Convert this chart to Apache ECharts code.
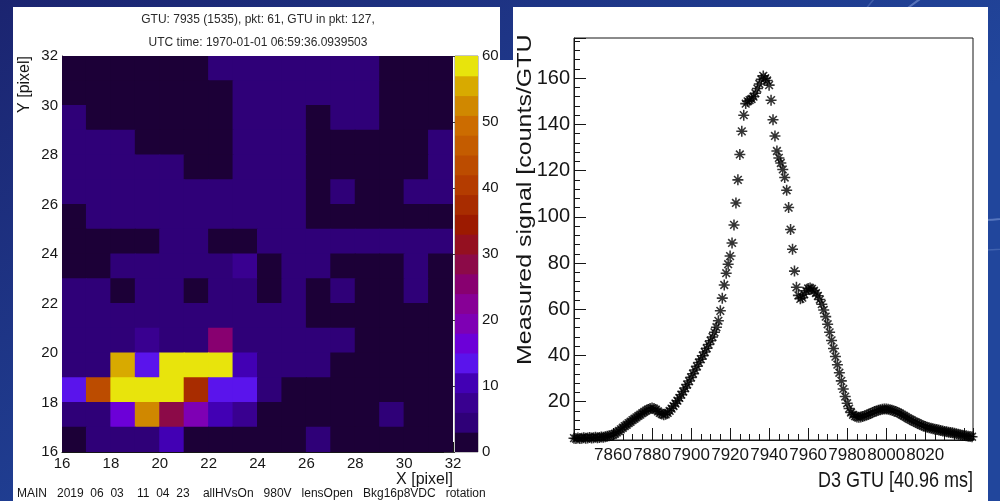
<!DOCTYPE html>
<html>
<head>
<meta charset="utf-8">
<title>GTU 7935 pixel map and light curve</title>
<script src="https://cdn.jsdelivr.net/npm/echarts@6/dist/echarts.min.js"></script>
<style>
  html, body { margin: 0; padding: 0; }
  #chart { width: 1000px; height: 501px; }
</style>
</head>
<body>
<div id="chart"></div>
<script>
// pixel bins (lower edges)
const pixelBinsX = [16, 17, 18, 19, 20, 21, 22, 23, 24, 25, 26, 27, 28, 29, 30, 31]
const pixelBinsY = [16, 17, 18, 19, 20, 21, 22, 23, 24, 25, 26, 27, 28, 29, 30, 31]

// counts per pixel, rows from Y=31 (top) down to Y=16, columns X=16..31
const pixelCounts = [
  [2, 2, 2, 2, 2, 2, 4, 4, 4, 4, 4, 4, 4, 2, 2, 2],
  [2, 2, 2, 2, 2, 2, 2, 4, 4, 4, 4, 4, 4, 2, 2, 2],
  [4, 2, 2, 2, 2, 2, 2, 4, 4, 4, 2, 4, 4, 2, 2, 2],
  [4, 4, 4, 2, 2, 2, 2, 4, 4, 4, 2, 2, 2, 2, 2, 4],
  [4, 4, 4, 4, 4, 2, 2, 4, 4, 4, 2, 2, 2, 2, 2, 4],
  [4, 4, 4, 4, 4, 4, 4, 4, 4, 4, 2, 4, 2, 2, 4, 4],
  [2, 4, 4, 4, 4, 4, 4, 4, 4, 4, 2, 2, 2, 2, 2, 2],
  [2, 2, 2, 2, 4, 4, 2, 2, 4, 4, 4, 4, 4, 4, 4, 4],
  [2, 2, 4, 4, 4, 4, 4, 8, 2, 4, 4, 2, 2, 2, 4, 2],
  [4, 4, 2, 4, 4, 2, 4, 4, 2, 4, 2, 4, 2, 2, 4, 2],
  [4, 4, 4, 4, 4, 4, 4, 4, 4, 4, 2, 2, 2, 2, 2, 2],
  [4, 4, 4, 7, 4, 4, 25, 4, 4, 4, 4, 4, 2, 2, 2, 2],
  [4, 4, 55, 13, 59, 59, 59, 11, 4, 4, 4, 2, 2, 2, 2, 2],
  [13, 42, 59, 59, 59, 38, 13, 13, 4, 2, 2, 2, 2, 2, 2, 2],
  [4, 4, 16, 52, 28, 19, 9, 6, 2, 2, 2, 2, 2, 4, 2, 2],
  [2, 4, 4, 4, 10, 2, 2, 2, 2, 2, 4, 2, 2, 2, 2, 2],
]

// colour levels of the z palette (lower edges, step 3)
const zLevels = [0, 3, 6, 9, 12, 15, 18, 21, 24, 27, 30, 33, 36, 39, 42, 45, 48, 51, 54, 57]
const zColors = [
  '#1c0037', '#2f0078', '#390090', '#4200b4', '#5a14ec', '#6c00d8', '#7e00b4', '#870096', '#880070', '#8c0a48',
  '#941020', '#9c1a00', '#a82c00', '#b43c00', '#bc4c00', '#c45c00', '#cc6c00', '#d08800', '#d8aa00', '#e8e40c',
]

// light curve: one value per GTU starting at gtuStart
const gtuStart = 7840
const signal = [
  4.2, 4.0, 4.3, 4.1, 4.2, 4.4, 4.2, 4.3, 4.5, 4.3,
  4.4, 4.6, 4.4, 4.5, 4.7, 4.6, 4.8, 5.0, 5.2, 5.4,
  5.6, 6.1, 6.7, 7.3, 8.0, 8.7, 9.4, 10.0, 10.7, 11.3,
  12.0, 12.6, 13.2, 13.8, 14.4, 15.0, 15.6, 16.1, 16.6, 17.0,
  17.2, 17.0, 16.5, 15.8, 15.1, 14.6, 14.3, 14.5, 15.1, 16.0,
  17.0, 18.1, 19.2, 20.4, 21.6, 23.0, 24.4, 25.9, 27.4, 28.9,
  30.5, 32.1, 33.7, 35.3, 36.9, 38.4, 39.9, 41.5, 43.1, 44.7,
  46.4, 48.0, 50.0, 52.2, 55.0, 59.3, 64.8, 70.5, 75.6, 79.5,
  83.0, 88.7, 96.5, 106.0, 116.0, 127.0, 137.0, 144.0, 149.0, 150.0,
  150.5, 151.0, 152.0, 153.5, 155.5, 157.5, 159.5, 161.0, 160.0, 159.0,
  157.0, 150.5, 142.0, 135.0, 128.5, 125.5, 123.3, 120.5, 117.0, 111.5,
  104.0, 94.5, 86.0, 76.5, 69.5, 66.0, 64.5, 65.0, 66.5, 68.0,
  69.0, 69.2, 68.8, 68.0, 67.0, 65.8, 64.2, 62.2, 59.7, 56.8,
  53.5, 50.0, 46.5, 43.0, 39.5, 36.0, 32.5, 29.0, 25.5, 22.2,
  19.3, 17.0, 15.3, 14.3, 13.7, 13.4, 13.3, 13.4, 13.6, 13.9,
  14.2, 14.5, 14.9, 15.3, 15.7, 16.0, 16.3, 16.5, 16.7, 16.8,
  16.8, 16.7, 16.5, 16.3, 16.0, 15.7, 15.3, 14.9, 14.4, 13.9,
  13.4, 12.9, 12.4, 12.0, 11.5, 11.1, 10.7, 10.3, 9.9, 9.5,
  9.2, 8.9, 8.7, 8.5, 8.3, 8.1, 7.9, 7.7, 7.5, 7.3,
  7.1, 7.0, 6.8, 6.6, 6.5, 6.3, 6.1, 5.9, 5.7, 5.5,
  5.3, 5.2, 5.0, 4.9, 4.8,
]

const font = '"Liberation Sans", Arial, sans-serif'
const ink = '#161616'
// ROOT style asterisk marker
const star = 'path://M0,8.6L20,8.6L20,11.4L0,11.4Z M8.6,0L11.4,0L11.4,20L8.6,20Z M4,2L18,16L16,18L2,4Z M18,4L4,18L2,16L16,2Z'

const heatCells = []
pixelCounts.forEach((row, r) => {
  row.forEach((v, c) => heatCells.push([pixelBinsX[c], pixelBinsY[pixelBinsY.length - 1 - r], v]))
})
const barCells = zLevels.map((z) => [0, z, z + 1.5])
const curve = signal.map((v, i) => [gtuStart + i, v])

// a cell of size w x h (in data units) from its lower-left corner, slightly padded so no seams show
function cellRenderer(w, h) {
  return function (params, api) {
    const x = api.value(0)
    const y = api.value(1)
    const a = api.coord([x, y + h])
    const b = api.coord([x + w, y])
    return {
      type: 'rect',
      shape: { x: a[0] - 0.5, y: a[1] - 0.5, width: b[0] - a[0] + 1, height: b[1] - a[1] + 1 },
      style: { fill: api.visual('color') },
    }
  }
}

const chart = echarts.init(document.getElementById('chart'))

const tickStyle = { color: ink, width: 1 }

chart.setOption({
  animation: false,
  backgroundColor: new echarts.graphic.LinearGradient(0, 0, 0.3, 1, [
    { offset: 0, color: '#1b2470' },
    { offset: 1, color: '#21469c' },
  ]),
  textStyle: { fontFamily: font },
  grid: [
    { left: 62, top: 56, width: 391, height: 396 },
    { left: 455, top: 56, width: 23, height: 396, show: true, borderColor: '#8a8a8a', borderWidth: 1 },
    { left: 574, top: 38, width: 399, height: 402, show: true, borderColor: ink, borderWidth: 1 },
  ],
  xAxis: [
    {
      type: 'value', gridIndex: 0, min: 16, max: 32, interval: 2,
      axisLine: { onZero: false, lineStyle: tickStyle },
      axisTick: { inside: true, length: 10, lineStyle: tickStyle },
      minorTick: { show: true, splitNumber: 4, length: 5, lineStyle: tickStyle },
      splitLine: { show: false },
      axisLabel: { fontFamily: font, fontSize: 15, color: ink, margin: 4 },
    },
    { type: 'value', gridIndex: 1, min: 0, max: 1, show: false },
    {
      type: 'value', gridIndex: 2, min: 7840, max: 8044.5, minInterval: 20, maxInterval: 20, splitNumber: 10,
      axisLine: { onZero: false, lineStyle: tickStyle },
      axisTick: { inside: true, length: 12, lineStyle: tickStyle },
      minorTick: { show: true, splitNumber: 4, length: 6, lineStyle: tickStyle },
      splitLine: { show: false },
      axisLabel: {
        fontFamily: font, fontSize: 17, color: ink, margin: 7,
        formatter: (v) => (v % 20 === 0 && v > 7840 && v < 8040 ? String(v) : ''),
      },
    },
  ],
  yAxis: [
    {
      type: 'value', gridIndex: 0, min: 16, max: 32, interval: 2,
      axisLine: { onZero: false, lineStyle: tickStyle },
      axisTick: { inside: true, length: 10, lineStyle: tickStyle },
      minorTick: { show: true, splitNumber: 4, length: 5, lineStyle: tickStyle },
      splitLine: { show: false },
      axisLabel: { fontFamily: font, fontSize: 15, color: ink, margin: 4 },
    },
    {
      type: 'value', gridIndex: 1, position: 'right', min: 0, max: 60, interval: 10,
      axisLine: { show: false },
      axisTick: { inside: true, length: 11, lineStyle: { color: '#3a3a3a' } },
      splitLine: { show: false },
      axisLabel: { fontFamily: font, fontSize: 15, color: ink, margin: 4 },
    },
    {
      type: 'value', gridIndex: 2, min: 3.4, max: 177.4, minInterval: 20, maxInterval: 20, splitNumber: 8,
      axisLine: { onZero: false, lineStyle: tickStyle },
      axisTick: { inside: true, length: 12, lineStyle: tickStyle },
      minorTick: { show: true, splitNumber: 5, length: 6, lineStyle: tickStyle },
      splitLine: { show: false },
      axisLabel: { fontFamily: font, fontSize: 20, color: ink, margin: 4, showMinLabel: false, showMaxLabel: false },
    },
  ],
  visualMap: {
    type: 'piecewise', show: false, seriesIndex: [0, 1], dimension: 2,
    pieces: zLevels.map((z, i) => ({ gte: z, lt: z + 3, color: zColors[i] })),
  },
  series: [
    {
      type: 'custom', xAxisIndex: 0, yAxisIndex: 0, data: heatCells, clip: true,
      encode: { x: 0, y: 1 }, renderItem: cellRenderer(1, 1), silent: true,
    },
    {
      type: 'custom', xAxisIndex: 1, yAxisIndex: 1, data: barCells, clip: true,
      encode: { x: 0, y: 1 }, renderItem: cellRenderer(1, 3), silent: true,
    },
    {
      type: 'scatter', xAxisIndex: 2, yAxisIndex: 2, data: curve,
      symbol: star, symbolSize: 11, itemStyle: { color: '#000' }, silent: true,
    },
  ],
  graphic: [
    { type: 'circle', z: -30, shape: { cx: 985, cy: 100, r: 120 }, style: { fill: 'none', stroke: 'rgba(190,210,255,0.35)', lineWidth: 2 } },
    { type: 'circle', z: -30, shape: { cx: 985, cy: 100, r: 150 }, style: { fill: 'none', stroke: 'rgba(190,210,255,0.2)', lineWidth: 1.5 } },
    { type: 'rect', z: -10, shape: { x: 13, y: 7, width: 487, height: 494 }, style: { fill: '#fff' } },
    { type: 'rect', z: -10, shape: { x: 513, y: 7, width: 475, height: 494 }, style: { fill: '#fff' } },
    { type: 'rect', z: -10, shape: { x: 499, y: 60, width: 15, height: 441 }, style: { fill: '#fff' } },
    {
      type: 'text', z: 10, x: 258, y: 20,
      style: { text: 'GTU: 7935 (1535), pkt: 61, GTU in pkt: 127,', fontFamily: font, fontSize: 12, fill: '#2a2a2a', align: 'center', verticalAlign: 'middle' },
    },
    {
      type: 'text', z: 10, x: 258, y: 43,
      style: { text: 'UTC time: 1970-01-01 06:59:36.0939503', fontFamily: font, fontSize: 12, fill: '#2a2a2a', align: 'center', verticalAlign: 'middle' },
    },
    {
      type: 'text', z: 10, x: 25, y: 56, rotation: Math.PI / 2,
      style: { text: 'Y [pixel]', fontFamily: font, fontSize: 16, fill: ink, align: 'right', verticalAlign: 'middle' },
    },
    {
      type: 'text', z: 10, x: 453, y: 480,
      style: { text: 'X [pixel]', fontFamily: font, fontSize: 16, fill: ink, align: 'right', verticalAlign: 'middle' },
    },
    {
      type: 'text', z: 10, x: 17, y: 494,
      style: {
        text: 'MAIN   2019  06  03    11  04  23    allHVsOn   980V   lensOpen   Bkg16p8VDC   rotation',
        fontFamily: font, fontSize: 12, fill: ink, align: 'left', verticalAlign: 'middle',
        width: 483, overflow: 'truncate', ellipsis: '',
      },
    },
    {
      type: 'text', z: 10, x: 525, y: 365, rotation: Math.PI / 2, scaleX: 1.19,
      style: {
        text: 'Measured signal [counts/GTU]', fontFamily: font, fontSize: 21, fill: ink,
        align: 'left', verticalAlign: 'middle', width: 280, overflow: 'truncate', ellipsis: '',
      },
    },
    {
      type: 'text', z: 10, x: 973, y: 481, scaleY: 1.25,
      style: { text: 'D3 GTU [40.96 ms]', fontFamily: font, fontSize: 18, fill: ink, align: 'right', verticalAlign: 'middle' },
    },
  ],
})
</script>
</body>
</html>
